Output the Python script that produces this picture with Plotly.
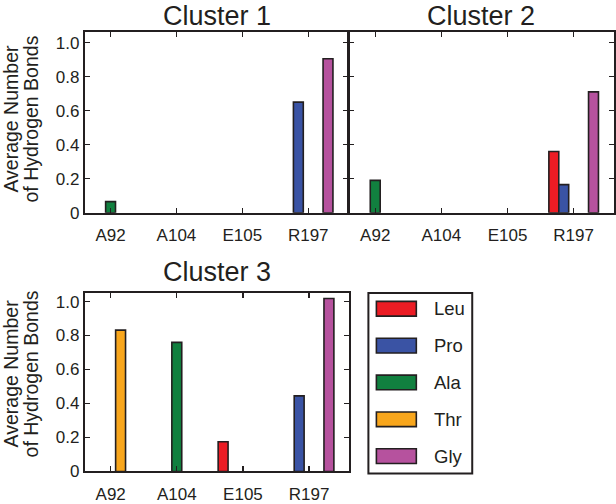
import plotly.graph_objects as go

# ---- data ----
residues = ["A92", "A104", "E105", "R197"]
amino_acids = ["Leu", "Pro", "Ala", "Thr", "Gly"]
cluster_titles = ["Cluster 1", "Cluster 2", "Cluster 3"]

# values per cluster, per amino acid (order: A92, A104, E105, R197)
c1_leu = [0, 0, 0, 0]
c1_pro = [0, 0, 0, 0.65]
c1_ala = [0.065, 0, 0, 0]
c1_thr = [0, 0, 0, 0]
c1_gly = [0, 0, 0, 0.905]

c2_leu = [0, 0, 0, 0.36]
c2_pro = [0, 0, 0, 0.165]
c2_ala = [0.19, 0, 0, 0]
c2_thr = [0, 0, 0, 0]
c2_gly = [0, 0, 0, 0.71]

c3_leu = [0, 0, 0.175, 0]
c3_pro = [0, 0, 0, 0.445]
c3_ala = [0, 0.76, 0, 0]
c3_thr = [0.832, 0, 0, 0]
c3_gly = [0, 0, 0, 1.018]

y_tick_vals = [0, 0.2, 0.4, 0.6, 0.8, 1.0]
y_tick_text = ["0", "0.2", "0.4", "0.6", "0.8", "1.0"]
y_title_lines = ["Average Number", "of Hydrogen Bonds"]

colors = ["#ec1c24", "#3a53a4", "#11803f", "#f8a61c", "#b6529e"]
# -----------------

clusters = [
    [c1_leu, c1_pro, c1_ala, c1_thr, c1_gly],
    [c2_leu, c2_pro, c2_ala, c2_thr, c2_gly],
    [c3_leu, c3_pro, c3_ala, c3_thr, c3_gly],
]

W, H = 616, 504
INK = "#231f20"
FONT = "Liberation Sans, Arial, Helvetica, sans-serif"


def px(x):
    return x / W


def py(y):
    return 1 - y / H


fig = go.Figure()
for ci, series in enumerate(clusters):
    suffix = "" if ci == 0 else str(ci + 1)
    for name, vals, col in zip(amino_acids, series, colors):
        fig.add_trace(go.Bar(
            x=residues,
            y=[v if v > 0 else None for v in vals],
            name=name,
            marker=dict(color=col, line=dict(color=INK, width=1.6)),
            xaxis="x" + suffix, yaxis="y" + suffix,
            showlegend=False, hoverinfo="skip",
        ))

# panel boxes (pixel edges)
panels = [
    (85, 349, 33, 217),
    (350, 615, 33, 217),
    (85, 350, 299, 481),
]

common_x = dict(
    type="category", categoryorder="array", categoryarray=residues,
    range=[-0.39, 3.61], showline=True, linewidth=2, linecolor=INK,
    mirror="ticks", ticks="inside", ticklen=5, tickwidth=1.2, tickcolor=INK,
    tickfont=dict(size=17, color=INK, family=FONT), showgrid=False,
    zeroline=False, fixedrange=True, ticklabelstandoff=6,
)
common_y = dict(
    range=[0, 1.06], showline=True, linewidth=2, linecolor=INK,
    mirror="ticks", ticks="inside", ticklen=5, tickwidth=1.2, tickcolor=INK,
    tickvals=y_tick_vals, ticktext=y_tick_text,
    tickfont=dict(size=17, color=INK, family=FONT), showgrid=False,
    zeroline=False, fixedrange=True,
)

layout = dict(
    width=W, height=H, margin=dict(l=0, r=0, t=0, b=0),
    paper_bgcolor="white", plot_bgcolor="white",
    barmode="group", bargap=0.25, bargroupgap=0,
    font=dict(family=FONT, color=INK),
    showlegend=False,
)

annotations = []
for i, (x0, x1, y0, y1) in enumerate(panels):
    suffix = "" if i == 0 else str(i + 1)
    xa = dict(common_x, domain=[px(x0), px(x1)], anchor="y" + suffix)
    ya = dict(common_y, domain=[py(y1), py(y0)], anchor="x" + suffix)
    if i == 2:
        ya["range"] = [0, 1.05]
    if i == 1:
        ya["showticklabels"] = False
    layout["xaxis" + suffix] = xa
    layout["yaxis" + suffix] = ya

# titles
title_pos = [(217, 16.5), (482, 16.5), (217, 278)]
for t, (tx, ty) in zip(cluster_titles, title_pos):
    annotations.append(dict(
        text=t, x=px(tx), y=py(ty), xref="paper", yref="paper",
        xanchor="center", yanchor="middle", showarrow=False, borderpad=0,
        font=dict(size=27, color=INK, family=FONT),
    ))

# y axis titles (two lines, rotated)
for cy in (121, 381):
    for line, lx in zip(y_title_lines, (11, 31)):
        annotations.append(dict(
            text=line, x=px(lx), y=py(cy), xref="paper", yref="paper",
            xanchor="center", yanchor="middle", textangle=-90, showarrow=False,
            font=dict(size=19.5, color=INK, family=FONT),
        ))

# custom legend
shapes = [dict(type="rect", xref="paper", yref="paper",
               x0=px(369), x1=px(473), y0=py(483), y1=py(299),
               line=dict(color=INK, width=2), fillcolor="rgba(0,0,0,0)")]
item_y = [315, 352.6, 390.2, 427.8, 465.4]
for name, col, iy in zip(amino_acids, colors, item_y):
    shapes.append(dict(type="rect", xref="paper", yref="paper",
                       x0=px(377), x1=px(417), y0=py(iy + 7.5), y1=py(iy - 7.5),
                       line=dict(color=INK, width=1.6), fillcolor=col))
    annotations.append(dict(
        text=name, x=px(433), y=py(iy), xref="paper", yref="paper",
        xanchor="left", yanchor="middle", showarrow=False,
        font=dict(size=18.5, color=INK, family=FONT),
    ))

layout["annotations"] = annotations
layout["shapes"] = shapes
fig.update_layout(**layout)
fig.write_html(
    "out.html",
    config={"displayModeBar": False, "staticPlot": True},
    post_script="document.body.style.margin='0';document.body.style.overflow='hidden';",
)
